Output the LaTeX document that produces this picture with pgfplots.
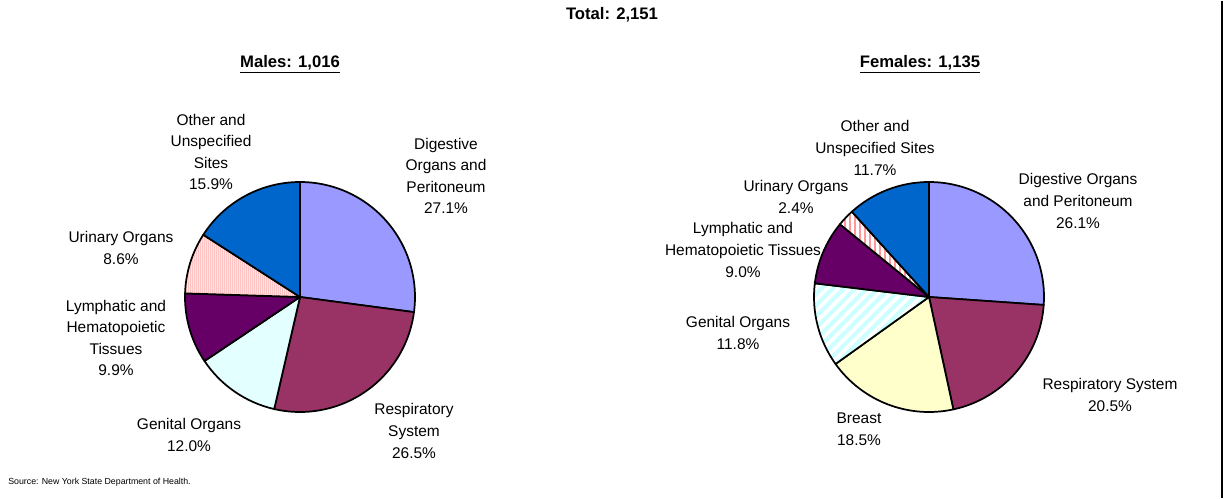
\documentclass[border=0pt]{standalone}
\usepackage{fontspec}
\setmainfont{Liberation Sans}
\usepackage{pgfplots}
\pgfplotsset{compat=1.18}
\usetikzlibrary{patterns.meta}
\definecolor{cdig}{HTML}{9999FF}
\definecolor{cresp}{HTML}{993366}
\definecolor{clymph}{HTML}{660066}
\definecolor{cother}{HTML}{0066CC}
\definecolor{cbreast}{HTML}{FFFFCC}
\definecolor{cgenm}{HTML}{E4FFFF}
\definecolor{cgenf}{HTML}{CCFFFF}
\definecolor{curim}{HTML}{FFE4E4}
\definecolor{curiml}{HTML}{FFC4C4}
\definecolor{curif}{HTML}{FF9999}
\tikzset{
  digest/.style={fill=cdig},
  resp/.style={fill=cresp},
  lymph/.style={fill=clymph},
  other/.style={fill=cother},
  breast/.style={fill=cbreast},
  genm/.style={fill=cgenm},
  genf/.style={fill=white, postaction={pattern={Lines[angle=45,distance=6pt,line width=3pt]}, pattern color=cgenf}},
  urim/.style={fill=curim, postaction={pattern={Lines[angle=90,distance=1.5pt,line width=0.5pt]}, pattern color=curiml}},
  urif/.style={fill=white, postaction={pattern={Lines[angle=90,distance=3.75pt,line width=1.5pt]}, pattern color=curif}},
  lbl/.style={align=center, font=\fontsize{11.6}{16.2}\selectfont, inner sep=0pt},
  ttl/.style={font=\fontsize{12.5}{14}\selectfont\bfseries, inner sep=0pt},
}
\def\R{86.25pt}
% pie data: percent / style
\def\malepie{27.1/digest, 26.5/resp, 12.0/genm, 9.9/lymph, 8.6/urim, 15.9/other}
\def\femalepie{26.1/digest, 20.5/resp, 18.5/breast, 11.8/genf, 9.0/lymph, 2.4/urif, 11.7/other}
\newcommand\drawpie[3]{% cx, cy, data
  \gdef\cum{0}%
  \foreach \v/\s in #3 {%
    \pgfmathsetmacro\aa{90-3.6*\cum}%
    \pgfmathsetmacro\bb{90-3.6*(\cum+\v)}%
    \fill[\s] (axis cs:#1,#2) -- ++(\aa:\R) arc[start angle=\aa, end angle=\bb, radius=\R] -- cycle;
    \draw[line width=1.3pt, line join=round] (axis cs:#1,#2) -- ++(\aa:\R) arc[start angle=\aa, end angle=\bb, radius=\R] -- cycle;
    \pgfmathsetmacro\nc{\cum+\v}%
    \xdef\cum{\nc}%
  }%
}
\begin{document}
\begin{tikzpicture}
\begin{axis}[
  x=0.75pt, y=0.75pt,
  xmin=0, xmax=1225, ymin=0, ymax=497,
  y dir=reverse,
  hide axis, clip=false,
]
\pgfplotsextra{
  \path (axis cs:0,0) rectangle (axis cs:1225,497);
  \drawpie{300}{296}{\malepie}
  \drawpie{929}{296}{\femalepie}
  \draw[line width=1.5pt] (axis cs:1221.5,0) -- (axis cs:1221.5,497);
}
\node[ttl] at (axis cs:612,14) {Total: 2,151};
\node[ttl] at (axis cs:290,63) {\underline{Males: 1,016}};
\node[ttl] at (axis cs:920,63) {\underline{Females: 1,135}};
% male labels
\node[lbl] at (axis cs:211,151) {Other and\\Unspecified\\Sites\\15.9\%};
\node[lbl] at (axis cs:446,175) {Digestive\\Organs and\\Peritoneum\\27.1\%};
\node[lbl] at (axis cs:121,247) {Urinary Organs\\8.6\%};
\node[lbl] at (axis cs:116,337) {Lymphatic and\\Hematopoietic\\Tissues\\9.9\%};
\node[lbl] at (axis cs:189,434) {Genital Organs\\12.0\%};
\node[lbl] at (axis cs:414,430) {Respiratory\\System\\26.5\%};
% female labels
\node[lbl] at (axis cs:875,147) {Other and\\Unspecified Sites\\11.7\%};
\node[lbl] at (axis cs:1078,200) {Digestive Organs\\and Peritoneum\\26.1\%};
\node[lbl] at (axis cs:796,196) {Urinary Organs\\2.4\%};
\node[lbl] at (axis cs:743,249) {Lymphatic and\\Hematopoietic Tissues\\9.0\%};
\node[lbl] at (axis cs:738,332) {Genital Organs\\11.8\%};
\node[lbl] at (axis cs:1110,394) {Respiratory System\\20.5\%};
\node[lbl] at (axis cs:859,428) {Breast\\18.5\%};
\node[anchor=west, font=\fontsize{6.6}{8}\selectfont, inner sep=0pt] at (axis cs:8,481) {Source: New York State Department of Health.};
\end{axis}
\end{tikzpicture}
\end{document}
